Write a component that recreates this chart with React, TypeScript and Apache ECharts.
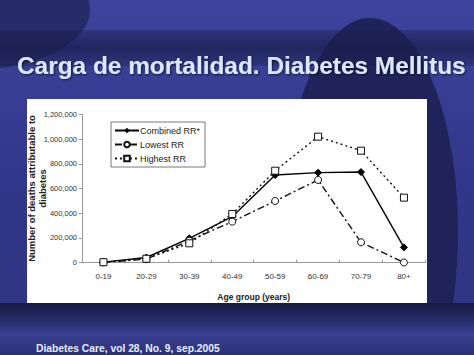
import React, { useEffect, useRef } from "react";
import * as echarts from "echarts";

const categories = ["0-19", "20-29", "30-39", "40-49", "50-59", "60-69", "70-79", "80+"];
const combined = [5000, 42000, 197000, 372000, 709000, 728000, 733000, 124000];
const lowest = [3000, 28000, 178000, 332000, 499000, 669000, 165000, 2000];
const highest = [4000, 32000, 157000, 394000, 744000, 1019000, 906000, 526000];
const seriesNames = ["Combined RR*", "Lowest RR", "Highest RR"];
const titleText = "Carga de mortalidad. Diabetes Mellitus";
const footerText = "Diabetes Care, vol 28, No. 9, sep.2005";

const FONT = "'Liberation Sans', Arial, Helvetica, sans-serif";

export default function App() {
  const ref = useRef<HTMLDivElement>(null);
  useEffect(() => {
    if (!ref.current) return;
    const chart = echarts.init(ref.current, undefined, { renderer: "svg" });
    const option: any = {
      animation: false,
      backgroundColor: "#343a8c",
      graphic: [
        {
          type: "rect",
          z: -10,
          silent: true,
          shape: { x: 0, y: 0, width: 474, height: 355 },
          style: {
            fill: new echarts.graphic.LinearGradient(0, 0, 0, 1, [
              { offset: 0, color: "#3e449c" },
              { offset: 0.5, color: "#31378a" },
              { offset: 1, color: "#2f3580" },
            ]),
          },
        },
        {
          type: "ellipse",
          z: -9,
          silent: true,
          shape: { cx: 370, cy: 232, rx: 88, ry: 214 },
          style: { fill: "#1f2359" },
        },
        {
          type: "ellipse",
          z: -9,
          silent: true,
          shape: { cx: -30, cy: 10, rx: 120, ry: 60 },
          style: { fill: "#22265e", opacity: 0.8 },
        },
        {
          type: "rect",
          z: -8,
          silent: true,
          shape: { x: 0, y: 30, width: 474, height: 36 },
          style: {
            fill: new echarts.graphic.LinearGradient(0, 0, 0, 1, [
              { offset: 0, color: "rgba(25,28,75,0.35)" },
              { offset: 0.5, color: "rgba(25,28,75,0.75)" },
              { offset: 1, color: "rgba(25,28,75,0.3)" },
            ]),
          },
        },
        {
          type: "rect",
          z: -8,
          silent: true,
          shape: { x: 0, y: 303, width: 474, height: 52 },
          style: {
            fill: new echarts.graphic.LinearGradient(0, 0, 0, 1, [
              { offset: 0, color: "#171a40" },
              { offset: 0.3, color: "#252a68" },
              { offset: 0.6, color: "#3a4091" },
              { offset: 1, color: "#2b3077" },
            ]),
          },
        },
        {
          type: "rect",
          z: -5,
          silent: true,
          shape: { x: 27, y: 99, width: 400, height: 204 },
          style: { fill: "#ffffff" },
        },
        {
          type: "text",
          z: 10,
          silent: true,
          x: 17,
          y: 53,
          style: {
            text: titleText,
            fill: "#dbe8ff",
            font: `bold 24.4px ${FONT}`,
            textBaseline: "alphabetic",
            textShadowColor: "rgba(0,0,0,0.6)",
            textShadowBlur: 2,
            textShadowOffsetX: 1,
            textShadowOffsetY: 1,
          },
        },
        {
          type: "text",
          z: 10,
          silent: true,
          x: 36,
          y: 343,
          style: {
            text: footerText,
            fill: "#e8eeff",
            font: `bold 10.3px ${FONT}`,
            textBaseline: "alphabetic",
          },
        },
      ],
      legend: {
        data: seriesNames,
        orient: "vertical",
        left: 111,
        top: 122,
        itemWidth: 24,
        itemHeight: 7,
        itemGap: 5,
        padding: [4, 5, 4, 3],
        borderColor: "#555",
        borderWidth: 0.8,
        backgroundColor: "#fff",
        textStyle: { fontFamily: FONT, fontSize: 9, color: "#222", padding: [0, 0, 0, -4] },
      },
      grid: { left: 82, right: 48.6, top: 114.3, bottom: 92.3 },
      xAxis: {
        type: "category",
        data: categories,
        boundaryGap: true,
        name: "Age group (years)",
        nameLocation: "middle",
        nameGap: 30,
        nameTextStyle: { fontFamily: FONT, fontSize: 8.5, fontWeight: "bold", color: "#222" },
        axisLine: { lineStyle: { color: "#999", width: 1 } },
        axisTick: { show: true, length: 3, inside: true, lineStyle: { color: "#999" } },
        axisLabel: { fontFamily: FONT, fontSize: 8, color: "#333", margin: 10 },
        splitLine: { show: false },
      },
      yAxis: {
        type: "value",
        min: 0,
        max: 1200000,
        interval: 200000,
        name: "Number of deaths attributable to\ndiabetes",
        nameLocation: "middle",
        nameRotate: 90,
        nameGap: 34,
        nameMoveOverlap: false,
        nameTextStyle: { fontFamily: FONT, fontSize: 9.5, fontWeight: "bold", color: "#222", lineHeight: 11 },
        axisLine: { show: true, lineStyle: { color: "#999", width: 1 } },
        axisTick: { show: true, length: 3, lineStyle: { color: "#999" } },
        axisLabel: {
          fontFamily: FONT,
          fontSize: 7.5,
          color: "#333",
          margin: 5,
          formatter: (v: number) => v.toLocaleString("en-US"),
        },
        splitLine: { show: false },
      },
      series: [
        {
          name: seriesNames[0],
          type: "line",
          data: combined,
          symbol: "diamond",
          symbolSize: 7,
          z: 3,
          lineStyle: { color: "#000", width: 1.4, type: "solid" },
          itemStyle: { color: "#000", borderColor: "#000" },
        },
        {
          name: seriesNames[1],
          type: "line",
          data: lowest,
          symbol: "circle",
          symbolSize: 7,
          z: 4,
          lineStyle: { color: "#111", width: 1.4, type: [7, 3, 2, 3] },
          itemStyle: { color: "#fff", borderColor: "#111", borderWidth: 1 },
        },
        {
          name: seriesNames[2],
          type: "line",
          data: highest,
          symbol: "rect",
          symbolSize: 7,
          z: 5,
          lineStyle: { color: "#111", width: 1.4, type: [2, 3] },
          itemStyle: { color: "#fff", borderColor: "#111", borderWidth: 1 },
        },
      ],
    };
    chart.setOption(option);
    return () => chart.dispose();
  }, []);
  return (
    <div
      ref={ref}
      style={{ position: "fixed", left: 0, top: 0, width: 474, height: 355 }}
    />
  );
}
